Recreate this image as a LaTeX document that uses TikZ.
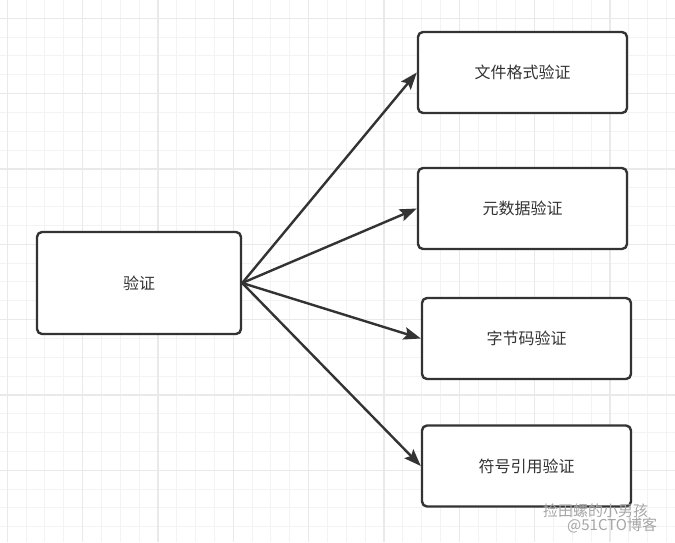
\documentclass[tikz,border=0pt]{standalone}
\usepackage{fontspec}
\newfontfamily\cjk{Noto Sans CJK SC}
\usetikzlibrary{arrows.meta}
\definecolor{ink}{HTML}{333333}
\definecolor{gridminor}{HTML}{F3F3F3}
\definecolor{gridmajor}{HTML}{E9E9E9}
\begin{document}
\begin{tikzpicture}[x=1pt,y=-1pt,line join=round,
	box/.style={draw=ink,line width=2.4pt,rounded corners=5pt,fill=white,
		text=ink,font=\cjk\fontsize{16}{18}\selectfont},
	conn/.style={draw=ink,line width=2.4pt,-{Stealth[length=17pt,width=12.5pt,inset=3pt]}},
	wmtext/.style={text=gray!70,font=\cjk\fontsize{15}{16}\selectfont,inner sep=0pt}]
	\useasboundingbox (0,0) rectangle (675,542);
	\fill[white] (0,0) rectangle (675,542);
	% grid
	\foreach \k in {0,...,35}{
		\draw[gridminor,line width=1pt] ({7.3+18.83*\k},0)--({7.3+18.83*\k},542);
	}
	\foreach \k in {-1,...,28}{
		\draw[gridminor,line width=1pt] (0,{18.3+18.83*\k})--(675,{18.3+18.83*\k});
	}
	\foreach \k in {0,...,8}{
		\draw[gridmajor,line width=1.2pt] ({7.3+75.33*\k},0)--({7.3+75.33*\k},542);
	}
	\foreach \k in {0,...,7}{
		\draw[gridmajor,line width=1.2pt] (0,{18.3+75.33*\k})--(675,{18.3+75.33*\k});
	}
	% boxes
	\node[box,minimum width=204pt,minimum height=102pt] (check) at (139,283) {验证};
	\node[box,minimum width=209pt,minimum height=81pt] (fmt) at (522.5,72.5) {文件格式验证};
	\node[box,minimum width=209pt,minimum height=81pt] (meta) at (522.5,208.5) {元数据验证};
	\node[box,minimum width=209pt,minimum height=81pt] (byte) at (526.5,338.5) {字节码验证};
	\node[box,minimum width=209pt,minimum height=81pt] (sym) at (526.5,466) {符号引用验证};
	% arrows
	\draw[conn] (check.east)--(fmt.west);
	\draw[conn] (check.east)--(meta.west);
	\draw[conn] (check.east)--(byte.west);
	\draw[conn] (check.east)--(sym.west);
	% watermark
	\node[wmtext,anchor=west] (wm1) at (543,511) {捡田螺的小男孩};
	\node[wmtext,anchor=west] (wm2) at (567,525) {@51CTO博客};
\end{tikzpicture}
\end{document}
